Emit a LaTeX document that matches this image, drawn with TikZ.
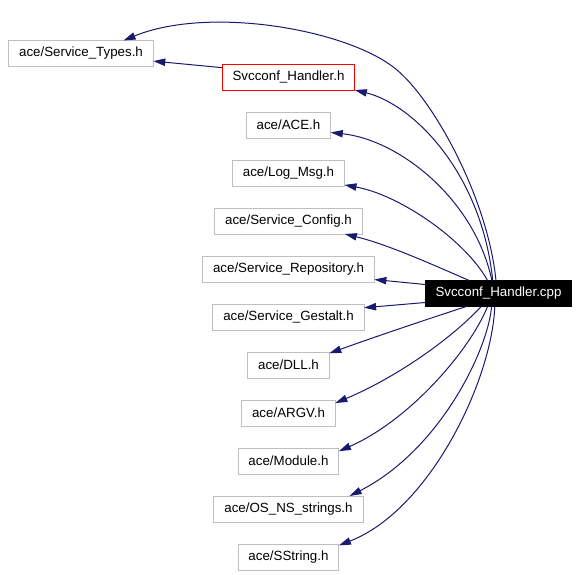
\documentclass[tikz,border=0pt]{standalone}
\usepackage{fontspec}
\setmainfont{Liberation Sans}
\usetikzlibrary{positioning}
\usetikzlibrary{arrows.meta}
\tikzset{>=latex}
\definecolor{mynavy}{RGB}{25,25,112}
\colorlet{mygrey}{black!25}
\colorlet{myred}{red}
\tikzstyle{filebox}=[draw=#1,line width=0.75pt,minimum height=19.5pt,inner xsep=7.8pt,
                     inner ysep=0pt,outer sep=0pt,font=\fontsize{10}{12}\selectfont]
\tikzstyle{rootbox}=[filebox=black,fill=black,text=white]
\tikzstyle{deparrow}=[-{Triangle[length=9pt,width=5.5pt]},mynavy,line width=0.75pt]

\begin{document}
\begin{tikzpicture}[x=0.75pt,y=-0.75pt]
  \def\h{48} % vertical space between rows
  \useasboundingbox (0,0) rectangle (579,575);

  % root
  \node[rootbox] (cpp) at (498.5,293.5) {Svcconf\_Handler.cpp};

  % types
  \node[filebox=mygrey] (types) at (81,53.5) {ace/Service\_Types.h};

  % handler
  \node[filebox=myred] (handler) at (288.5,77) {Svcconf\_Handler.h};
  \draw[deparrow] (handler.172) -- (types.-6);

  % column of headers
  \path (handler)++(0,\h) node[filebox=mygrey] (ace) {ace/ACE.h};
  \path (ace)++(0,\h) node[filebox=mygrey] (logmsg) {ace/Log\_Msg.h};
  \path (logmsg)++(0,\h) node[filebox=mygrey] (config) {ace/Service\_Config.h};
  \path (config)++(0,\h) node[filebox=mygrey] (repo) {ace/Service\_Repository.h};
  \path (repo)++(0,\h) node[filebox=mygrey] (gestalt) {ace/Service\_Gestalt.h};
  \path (gestalt)++(0,\h) node[filebox=mygrey] (dll) {ace/DLL.h};
  \path (dll)++(0,\h) node[filebox=mygrey] (argv) {ace/ARGV.h};
  \path (argv)++(0,\h) node[filebox=mygrey] (module) {ace/Module.h};
  \path (module)++(0,\h) node[filebox=mygrey] (osns) {ace/OS\_NS\_strings.h};
  \path (osns)++(0,\h) node[filebox=mygrey] (sstring) {ace/SString.h};

  % edges from the root
  \draw[deparrow] (cpp.101) .. controls (488,200) and (435,102) .. (397,70)
                  .. controls (350,30) and (210,5) .. (types.17);
  \draw[deparrow] (cpp.114) .. controls (482,175) and (415,105) .. (handler.south east);
  \draw[deparrow] (cpp.117) .. controls (475,200) and (400,140) .. (ace.-10);
  \draw[deparrow] (cpp.130) .. controls (465,240) and (400,195) .. (logmsg.-12);
  \draw[deparrow] (cpp.156) .. controls (440,268) and (390,245) .. (config.-13);
  \draw[deparrow] (cpp.173) -- (repo.-7);
  \draw[deparrow] (cpp.187) -- (gestalt.7);
  \draw[deparrow] (cpp.202) .. controls (440,315) and (380,335) .. (dll.16);
  \draw[deparrow] (cpp.217) .. controls (450,340) and (395,378) .. (argv.12);
  \draw[deparrow] (cpp.230) .. controls (470,350) and (410,420) .. (module.11);
  \draw[deparrow] (cpp.242) .. controls (488,350) and (440,450) .. (osns.12);
  \draw[deparrow] (cpp.254) .. controls (492,380) and (430,510) .. (sstring.13);
\end{tikzpicture}
\end{document}
